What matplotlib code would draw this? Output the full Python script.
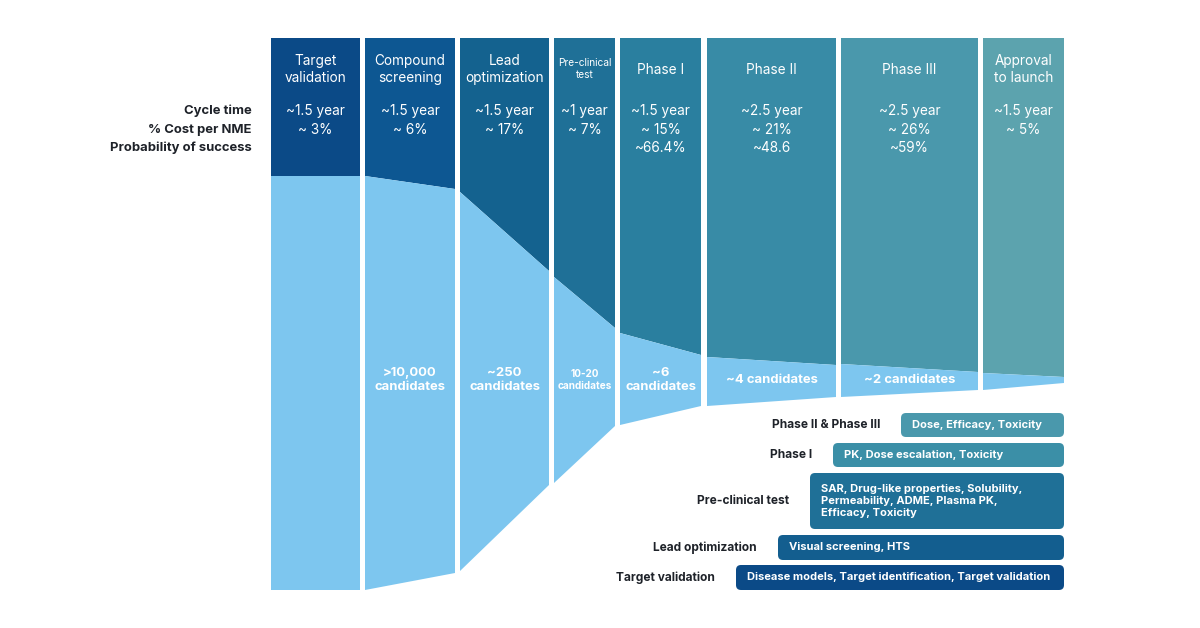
import matplotlib
matplotlib.use("Agg")
import matplotlib.pyplot as plt
from matplotlib.patches import FancyBboxPatch

plt.rcParams['font.family'] = ['Inter', 'DejaVu Sans']

# ---------------- data ----------------
stages = ["Target\nvalidation", "Compound\nscreening", "Lead\noptimization", "Pre-clinical\ntest",
          "Phase I", "Phase II", "Phase III", "Approval\nto launch"]
cycle_time = ["~1.5 year", "~1.5 year", "~1.5 year", "~1 year", "~1.5 year", "~2.5 year", "~2.5 year", "~1.5 year"]
cost_share = ["~ 3%", "~ 6%", "~ 17%", "~ 7%", "~ 15%", "~ 21%", "~ 26%", "~ 5%"]
success_prob = ["", "", "", "", "~66.4%", "~48.6", "~59%", ""]
candidates = ["", ">10,000\ncandidates", "~250\ncandidates", "10-20\ncandidates", "~6\ncandidates",
              "~4 candidates", "~2 candidates", ""]
row_labels = ["Cycle time", "% Cost per NME", "Probability of success"]

# funnel (candidate band) boundaries at the left / right edge of each stage column
funnel_top_left = [176, 176, 192, 277, 333, 357, 364, 373]
funnel_top_right = [176, 189, 271, 328, 355, 365, 372, 377]
funnel_bot_left = [590, 590, 571, 483, 425, 406, 397, 390]
funnel_bot_right = [590, 573, 485, 426, 406, 397, 390, 383]

activity_stages = ["Phase II & Phase III", "Phase I", "Pre-clinical test", "Lead optimization", "Target validation"]
activity_texts = ["Dose, Efficacy, Toxicity", "PK, Dose escalation, Toxicity",
                  "SAR, Drug-like properties, Solubility,\nPermeability, ADME, Plasma PK,\nEfficacy, Toxicity",
                  "Visual screening, HTS",
                  "Disease models, Target identification, Target validation"]

# ---------------- layout / style ----------------
col_left = [271, 365, 460, 554, 620, 707, 841, 983]
col_right = [360, 455, 549, 615, 701, 836, 978, 1064]
col_top = 38
dark_colors = ["#0B4A87", "#0D5792", "#14628F", "#1F7097", "#2A7F9F", "#388BA6", "#4A98AC", "#5CA3AE"]
light_color = "#7DC6EF"
text_dark = "#1E2229"

box_left = [901, 833, 810, 778, 736]
box_top = [413, 443, 473, 535, 565]
box_bottom = [437, 467, 529, 560, 590]
box_right = 1064
box_colors = ["#4A98AC", "#3B8FA7", "#1F7097", "#135E8F", "#0B4A87"]

fig = plt.figure(figsize=(12, 6.28), dpi=100)
fig.patch.set_facecolor("white")
ax = fig.add_axes([0, 0, 1, 1])
ax.set_xlim(0, 1200)
ax.set_ylim(628, 0)
ax.axis("off")

for i in range(len(stages)):
    x0, x1 = col_left[i], col_right[i]
    # upper (dark) part of the column
    ax.fill([x0, x1, x1, x0], [col_top, col_top, funnel_top_right[i], funnel_top_left[i]],
            color=dark_colors[i], lw=0)
    # candidate band
    ax.fill([x0, x1, x1, x0], [funnel_top_left[i], funnel_top_right[i], funnel_bot_right[i], funnel_bot_left[i]],
            color=light_color, lw=0)
    xc = (x0 + x1) / 2
    if "Pre-clinical" in stages[i]:
        ax.text(xc, 69, stages[i], color="white", ha="center", va="center", fontsize=7.3, linespacing=1.2)
    else:
        ax.text(xc, 69.5, stages[i], color="white", ha="center", va="center", fontsize=9.8, linespacing=1.3)
    ax.text(xc, 111, cycle_time[i], color="white", ha="center", va="center", fontsize=9.8)
    ax.text(xc, 129.5, cost_share[i], color="white", ha="center", va="center", fontsize=9.8)
    if success_prob[i]:
        ax.text(xc, 148, success_prob[i], color="white", ha="center", va="center", fontsize=9.8)
    if candidates[i]:
        if candidates[i].startswith("10-20"):
            ax.text(xc, 380, candidates[i], color="white", ha="center", va="center", fontsize=7.2,
                    fontweight="bold", linespacing=1.15)
        else:
            ax.text(xc, 380, candidates[i], color="white", ha="center", va="center", fontsize=9.4,
                    fontweight="bold", linespacing=1.25)

for lbl, y in zip(row_labels, [111, 129.5, 148]):
    ax.text(252, y, lbl, color=text_dark, ha="right", va="center", fontsize=9.4, fontweight="bold")

for i in range(len(activity_stages)):
    x0, y0, y1 = box_left[i], box_top[i], box_bottom[i]
    box = FancyBboxPatch((x0, y0), box_right - x0, y1 - y0,
                         boxstyle="round,pad=0,rounding_size=5", fc=box_colors[i], ec="none")
    ax.add_patch(box)
    ym = (y0 + y1) / 2
    ax.text(x0 + 11, ym, activity_texts[i], color="white", ha="left", va="center",
            fontsize=8.0, fontweight="bold", linespacing=1.3)
    ax.text(x0 - 21, ym, activity_stages[i], color=text_dark, ha="right", va="center",
            fontsize=8.6, fontweight="bold")

fig.savefig("out.png", dpi=100, facecolor="white")
